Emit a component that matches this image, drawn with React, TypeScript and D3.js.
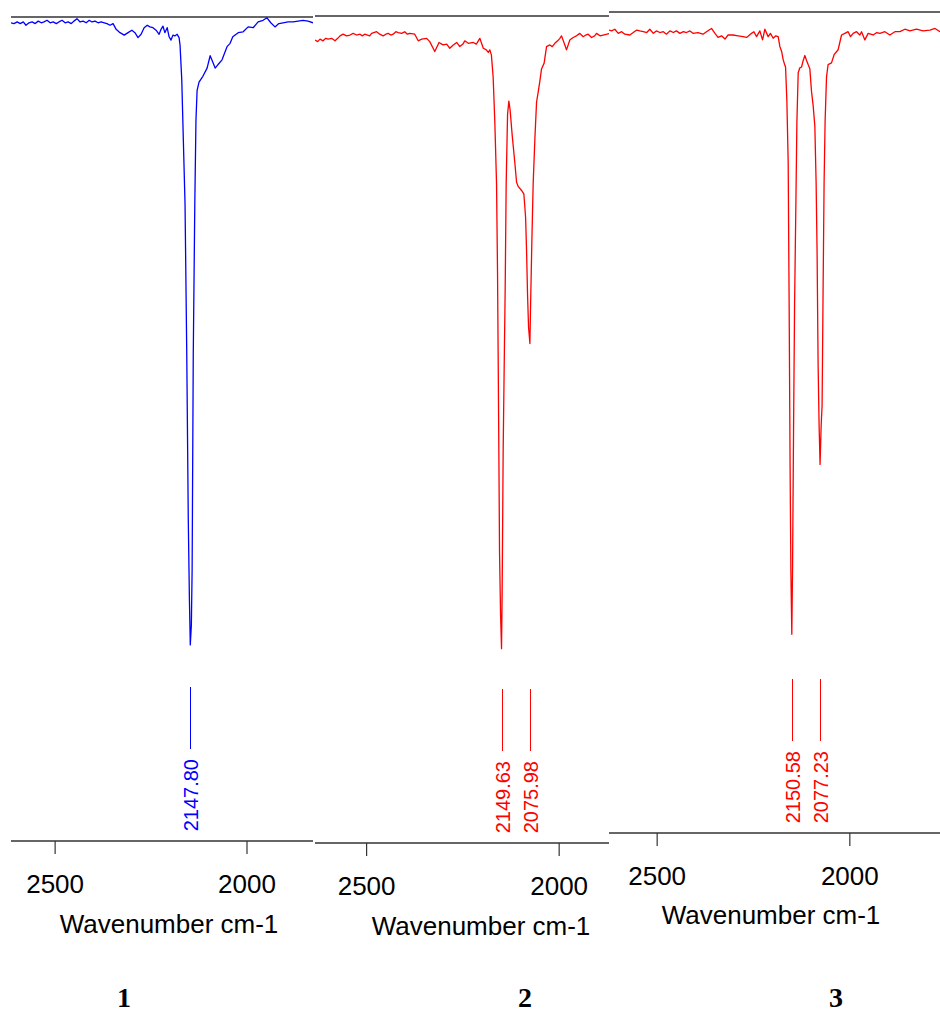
import React from "react";
import * as d3 from "d3";

// ---------- DATA ----------
// Spectrum 1 (blue): [wavenumber cm-1, transmittance %]
const spectrum1: [number, number][] = [
  [2615, 99.3], [2607, 99.2], [2599, 99.4], [2591, 99.2], [2583, 99.4], [2576, 99.0], [2568, 99.3],
  [2560, 99.4], [2552, 99.2], [2544, 99.5], [2536, 99.3], [2529, 99.4], [2521, 99.6], [2513, 99.3],
  [2505, 99.4], [2497, 99.2], [2490, 99.4], [2482, 99.6], [2474, 99.3], [2466, 99.4], [2458, 99.2],
  [2451, 99.5], [2443, 99.8], [2435, 99.4], [2427, 99.5], [2419, 99.3], [2411, 99.6], [2404, 99.4],
  [2396, 99.5], [2388, 99.3], [2380, 99.4], [2372, 99.3], [2365, 99.2], [2357, 99.0], [2349, 99.2],
  [2341, 98.5], [2331, 98.1], [2320, 97.8], [2310, 98.1], [2300, 98.4], [2292, 98.1], [2284, 97.5],
  [2276, 97.9], [2268, 98.7], [2260, 99.0], [2253, 98.8], [2245, 98.7], [2237, 98.4], [2229, 97.9],
  [2224, 98.5], [2219, 98.9], [2214, 98.1], [2208, 98.7], [2203, 97.6], [2198, 97.2], [2193, 97.8],
  [2188, 97.7], [2182, 97.9], [2177, 97.5], [2174.5, 96.6], [2170, 92.4], [2165.4, 84.2],
  [2161.5, 77.4], [2157, 59.2], [2153, 39.0], [2150, 29.2], [2147.8, 23.8], [2145, 26.2],
  [2143, 32.9], [2140, 59.2], [2136, 77.4], [2133, 87.5], [2130, 91.1], [2125, 92.1], [2115, 92.8],
  [2104, 93.8], [2096, 95.3], [2089, 94.5], [2083, 93.8], [2076, 94.2], [2065, 94.8], [2052, 96.4],
  [2044, 96.8], [2037, 97.6], [2023, 98.1], [2010, 98.2], [1997, 98.8], [1984, 98.7], [1971, 99.4],
  [1958, 99.6], [1948, 99.9], [1938, 99.3], [1927, 98.8], [1917, 99.2], [1906, 99.3], [1893, 99.4],
  [1880, 99.4], [1867, 99.5], [1854, 99.6], [1841, 99.5], [1828, 99.3],
];

// Spectrum 2 (red)
const spectrum2: [number, number][] = [
  [2634, 97.1], [2627, 96.9], [2621, 97.2], [2613, 97.0], [2606, 97.3], [2600, 97.2], [2591, 97.3],
  [2582, 97.0], [2575, 97.3], [2569, 97.6], [2561, 97.8], [2552, 97.6], [2543, 97.7], [2535, 97.9],
  [2526, 97.7], [2517, 97.8], [2511, 97.6], [2505, 97.8], [2492, 97.6], [2487, 97.9], [2474, 98.1],
  [2466, 97.8], [2457, 97.6], [2450, 97.8], [2444, 97.9], [2437, 97.7], [2431, 97.8], [2424, 98.1],
  [2418, 98.0], [2409, 97.9], [2401, 98.1], [2394, 97.8], [2388, 97.9], [2375, 97.8], [2366, 97.0],
  [2357, 97.2], [2344, 97.3], [2336, 96.9], [2323, 95.7], [2312, 96.8], [2305, 96.6], [2301, 96.5],
  [2292, 96.6], [2284, 96.1], [2275, 96.5], [2266, 96.8], [2258, 96.3], [2250, 96.6], [2245, 97.0],
  [2236, 96.7], [2223, 96.8], [2215, 96.6], [2206, 97.3], [2197, 96.1], [2189, 95.9], [2184, 95.6],
  [2180, 95.9], [2176, 95.3], [2171.4, 92.6], [2167, 87.1], [2162.6, 79.7], [2160, 68.8],
  [2157.4, 52.5], [2154.8, 35.1], [2152.2, 27.7], [2149.63, 23.5], [2148, 30.6], [2145.4, 47.5],
  [2142.8, 57.4], [2140.2, 66.9], [2137.6, 79.7], [2134, 88.1], [2130.6, 89.7], [2127.3, 88.6],
  [2122, 85.6], [2115, 82.2], [2110.6, 79.9], [2106.5, 79.4], [2097.7, 78.9], [2091.7, 78.5],
  [2087.2, 75.7], [2084.7, 71.7], [2082.1, 66.3], [2079.5, 62.4], [2075.98, 60.4], [2074.3, 64.8],
  [2070.9, 72.8], [2067.5, 79.7], [2063.1, 85.1], [2058.7, 89.6], [2054.5, 90.8], [2050.2, 92.1],
  [2045.8, 93.6], [2039, 94.3], [2032.8, 96.3], [2024.2, 96.5], [2018, 96.3], [2011.2, 96.7],
  [2004, 97.0], [1998.2, 97.3], [1993.8, 97.6], [1985.3, 96.5], [1980.9, 95.9], [1972.3, 97.1],
  [1963.7, 97.4], [1955, 97.6], [1946.3, 97.9], [1937.7, 97.5], [1931, 97.7], [1924.7, 97.8],
  [1915.9, 97.4], [1908, 97.6], [1902.9, 97.9], [1894, 97.6], [1885.8, 97.7], [1876, 97.8],
  [1868.4, 97.9],
];

// Spectrum 3 (red)
const spectrum3: [number, number][] = [
  [2625, 97.8], [2618, 97.7], [2610, 97.9], [2601, 97.4], [2592, 97.6], [2584, 97.3], [2571, 97.2],
  [2562, 97.5], [2553, 97.8], [2545, 97.7], [2536, 97.6], [2527, 97.5], [2519, 97.9], [2510, 97.4],
  [2502, 97.7], [2493, 97.5], [2484, 97.6], [2476, 97.3], [2467, 97.7], [2458, 97.5], [2450, 97.7],
  [2441, 97.4], [2432, 97.6], [2424, 97.5], [2415, 97.7], [2407, 97.4], [2394, 97.5], [2381, 97.3],
  [2372, 97.6], [2359, 98.0], [2350, 97.4], [2342, 96.9], [2333, 97.1], [2324, 96.7], [2316, 97.2],
  [2303, 97.2], [2290, 97.1], [2277, 97.0], [2268, 96.9], [2255, 97.4], [2249, 97.6], [2242, 97.0],
  [2233.5, 97.7], [2226.5, 96.6], [2220.5, 97.9], [2212, 97.0], [2206, 97.4], [2199, 96.8],
  [2192, 97.1], [2186, 97.0], [2181.6, 95.8], [2177, 95.2], [2173, 94.2], [2168.6, 93.5],
  [2166.8, 93.3], [2163.4, 89.2], [2160, 81.7], [2157.5, 64.3], [2155, 44.5], [2153, 32.0],
  [2150.58, 24.2], [2148.6, 32.5], [2146, 49.5], [2143.4, 64.3], [2140, 76.7], [2137.4, 86.6],
  [2134, 92.6], [2129.7, 93.2], [2125.3, 93.3], [2121, 94.1], [2116.7, 94.7], [2112.3, 94.1],
  [2108.2, 93.6], [2103.8, 93.1], [2099.4, 90.3], [2095.2, 88.6], [2090.8, 86.1], [2087.5, 79.2],
  [2085, 70.8], [2082.3, 56.9], [2079.7, 49.5], [2077.23, 44.9], [2074.5, 49.5], [2072, 52.1],
  [2069.3, 66.7], [2066.8, 79.2], [2064.2, 86.6], [2060.5, 92.1], [2056.4, 93.6], [2047.6, 93.8],
  [2040.8, 94.8], [2030.4, 95.4], [2021.5, 97.2], [2013, 97.4], [2004.4, 97.6], [1998.2, 97.0],
  [1991.4, 97.4], [1982.6, 97.6], [1974, 97.2], [1969.6, 97.6], [1961, 96.6], [1952.5, 97.4],
  [1939.5, 97.2], [1930, 97.5], [1922, 97.4], [1909, 97.6], [1896, 97.2], [1883, 97.6], [1870, 97.6],
  [1857, 97.9], [1844, 97.7], [1827, 97.9], [1810, 97.7], [1792, 97.8], [1779, 98.0], [1766, 97.6],
];

const peaks1 = [2147.8];
const peaks2 = [2149.63, 2075.98];
const peaks3 = [2150.58, 2077.23];

const tickValues = [2500, 2000];
const axisTitle = "Wavenumber cm-1";
const panelNames = ["1", "2", "3"];
const colors = ["#0000ff", "#ff0000", "#ff0000"];

// ---------- LAYOUT ----------
const W = 940;
const H = 1012;
const layouts = [
  { left: 11, right: 313, top: 17, axisY: 841, domain: [2615, 1828], titleX: 169, titleY: 933, nameX: 124 },
  { left: 315, right: 610, top: 16, axisY: 843, domain: [2634, 1868], titleX: 481, titleY: 935, nameX: 525 },
  { left: 609, right: 940, top: 12, axisY: 833, domain: [2625, 1766], titleX: 771, titleY: 924, nameX: 836 },
];

const sans = "'Liberation Sans', Arial, Helvetica, sans-serif";

function Panel({ data, peaks, color, layout, name }: any) {
  const x = d3.scaleLinear().domain(layout.domain).range([layout.left, layout.right]);
  const y = d3.scaleLinear().domain([0, 100]).range([layout.axisY, layout.top]);
  const line = d3
    .line<[number, number]>()
    .x((d) => x(d[0]))
    .y((d) => y(d[1]))
    .curve(d3.curveLinear);
  const clipId = `clip-${name}`;
  const ay = layout.axisY;
  return (
    <g>
      <defs>
        <clipPath id={clipId}>
          <rect x={layout.left} y={0} width={layout.right - layout.left} height={H} />
        </clipPath>
      </defs>
      <rect x={layout.left} y={0} width={layout.right - layout.left} height={960} fill="#fff" />
      <line x1={layout.left} x2={layout.right} y1={layout.top} y2={layout.top} stroke="#333" strokeWidth={1.3} />
      <line x1={layout.left} x2={layout.right} y1={ay} y2={ay} stroke="#333" strokeWidth={1.3} />
      {tickValues.map((t) => (
        <g key={t}>
          <line x1={x(t)} x2={x(t)} y1={ay} y2={ay + 13} stroke="#333" strokeWidth={1.2} />
          <text x={x(t)} y={ay + 52} textAnchor="middle" fontFamily={sans} fontSize={26} fill="#000">
            {t}
          </text>
        </g>
      ))}
      <text x={layout.titleX} y={layout.titleY} textAnchor="middle" fontFamily={sans} fontSize={26} fill="#000">
        {axisTitle}
      </text>
      <g clipPath={`url(#${clipId})`}>
        <path d={line(data) || ""} fill="none" stroke={color} strokeWidth={1.3} strokeLinejoin="round" />
      </g>
      {peaks.map((p: number) => (
        <g key={p}>
          <line
            x1={Math.round(x(p)) + 0.5}
            x2={Math.round(x(p)) + 0.5}
            y1={ay - 154}
            y2={ay - 92}
            stroke={color}
            strokeWidth={1}
          />
          <text
            transform={`translate(${x(p) + 8},${ay - 82}) rotate(-90)`}
            textAnchor="end"
            fontFamily={sans}
            fontSize={20}
            fill={color}
          >
            {p.toFixed(2)}
          </text>
        </g>
      ))}
      <text
        x={layout.nameX}
        y={1007}
        textAnchor="middle"
        fontFamily="'Liberation Serif', 'Times New Roman', serif"
        fontWeight="bold"
        fontSize={28}
        fill="#000"
      >
        {name}
      </text>
    </g>
  );
}

export default function App() {
  const spectra = [spectrum1, spectrum2, spectrum3];
  const peaks = [peaks1, peaks2, peaks3];
  return (
    <svg
      width={W}
      height={H}
      viewBox={`0 0 ${W} ${H}`}
      style={{ position: "absolute", left: 0, top: 0, display: "block", background: "#fff" }}
    >
      <rect x={0} y={0} width={W} height={H} fill="#fff" />
      {layouts.map((l, i) => (
        <Panel key={i} data={spectra[i]} peaks={peaks[i]} color={colors[i]} layout={l} name={panelNames[i]} />
      ))}
    </svg>
  );
}
